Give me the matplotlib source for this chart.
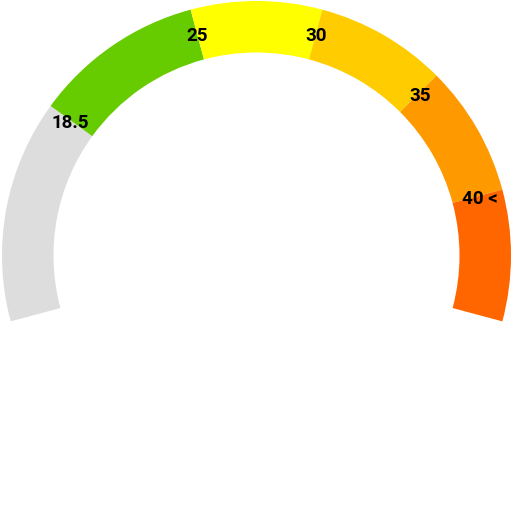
import matplotlib.pyplot as plt
from matplotlib.patches import Wedge
import numpy as np

# gauge bands (BMI-like scale)
band_starts = [10, 18.5, 25, 30, 35, 40]
band_ends = [18.5, 25, 30, 35, 40, 45]
band_colors = ['#dddddd', '#66cc00', '#ffff00', '#ffcc00', '#ff9900', '#ff6600']
tick_values = [18.5, 25, 30, 35, 40]
tick_labels = ['18.5', '25', '30', '35', '40 <']

scale_min, scale_max = 10, 45
start_angle, end_angle = 195, -15  # degrees, counter-clockwise from +x

cx, cy = 256.5, 255.5
r_outer, r_inner = 254.5, 203


def to_angle(v):
    return start_angle + (v - scale_min) / (scale_max - scale_min) * (end_angle - start_angle)


fig = plt.figure(figsize=(5.12, 5.12), dpi=100)
ax = fig.add_axes([0, 0, 1, 1])
ax.set_xlim(0, 512)
ax.set_ylim(0, 512)
ax.set_aspect('equal')
ax.axis('off')

# y measured from bottom in axes; center given as pixel row from top
yc = 512 - cy
for s, e, c in zip(band_starts, band_ends, band_colors):
    a1, a2 = to_angle(e), to_angle(s)
    ax.add_patch(Wedge((cx, yc), r_outer, a1, a2, width=r_outer - r_inner,
                       facecolor=c, edgecolor='none', antialiased=True))

r_lab = (r_outer + r_inner) / 2 + 2
for v, lab in zip(tick_values, tick_labels):
    a = np.deg2rad(to_angle(v))
    ax.text(cx + r_lab * np.cos(a), yc + r_lab * np.sin(a) - 3.5, lab,
            ha='center', va='center', fontsize=13.5, fontweight='bold',
            family=['Roboto', 'DejaVu Sans'], color='black')

fig.savefig('out.png', dpi=100)
